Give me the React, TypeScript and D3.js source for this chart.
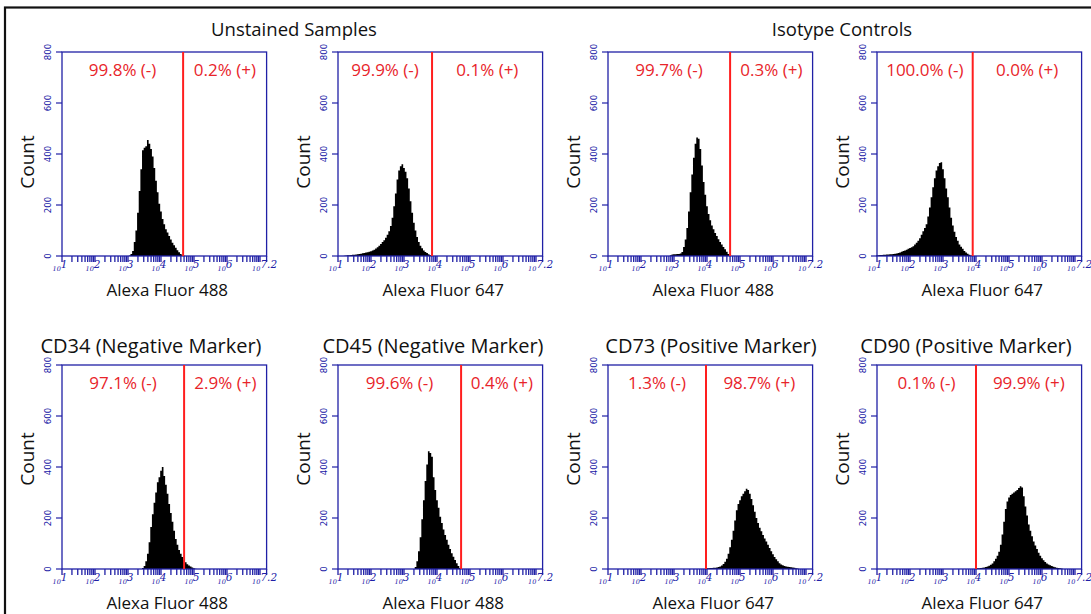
import React from 'react';
import * as d3 from 'd3';

// ---------- data ----------
const BIN = 0.05; // histogram bin width in log10 units
const X_DOMAIN = [1, 7.2];
const Y_DOMAIN = [0, 800];
const yTickValues = [0, 200, 400, 600, 800];
const xTickExponents = ['1', '2', '3', '4', '5', '6', '7.2'];
const xTickPositions = [1, 2, 3, 4, 5, 6, 7.2];

const groupTitles = ['Unstained Samples', 'Isotype Controls'];
const markerTitles = ['CD34 (Negative Marker)', 'CD45 (Negative Marker)', 'CD73 (Positive Marker)', 'CD90 (Positive Marker)'];
const channelLabels = [
  'Alexa Fluor 488', 'Alexa Fluor 647', 'Alexa Fluor 488', 'Alexa Fluor 647',
  'Alexa Fluor 488', 'Alexa Fluor 488', 'Alexa Fluor 647', 'Alexa Fluor 647',
];
const negLabels = ['99.8% (-)', '99.9% (-)', '99.7% (-)', '100.0% (-)', '97.1% (-)', '99.6% (-)', '1.3% (-)', '0.1% (-)'];
const posLabels = ['0.2% (+)', '0.1% (+)', '0.3% (+)', '0.0% (+)', '2.9% (+)', '0.4% (+)', '98.7% (+)', '99.9% (+)'];
const gateLog = [4.67, 3.85, 4.7, 3.9, 4.7, 4.73, 3.97, 4.0];

const histStarts = [3.0, 1.2, 2.9, 1.0, 3.4, 3.3, 4.0, 4.0];

const unstained488 = [0, 2, 8, 20, 55, 100, 170, 255, 340, 415, 425, 430, 455, 440, 420, 390, 345, 295, 250, 205, 175, 145, 125, 105, 92, 78, 65, 52, 42, 32, 23, 15, 8, 3, 1];
const unstained647 = [1, 2, 3, 3, 4, 5, 5, 6, 7, 8, 9, 11, 12, 14, 15, 17, 19, 22, 25, 29, 34, 40, 47, 55, 62, 72, 83, 97, 118, 150, 195, 245, 300, 335, 352, 360, 345, 330, 305, 265, 215, 170, 130, 100, 75, 55, 40, 30, 22, 16, 12, 7, 3, 0];
const isotype488 = [3, 6, 7, 7, 8, 8, 10, 16, 35, 65, 110, 175, 250, 320, 385, 440, 465, 460, 420, 355, 290, 240, 195, 165, 140, 120, 105, 90, 78, 66, 55, 45, 35, 26, 17, 8, 0];
const isotype647 = [3, 3, 4, 4, 5, 5, 6, 6, 7, 7, 8, 9, 10, 12, 14, 17, 20, 22, 25, 28, 31, 34, 38, 45, 52, 60, 70, 83, 97, 110, 125, 155, 190, 230, 270, 305, 335, 352, 365, 368, 340, 305, 265, 230, 190, 150, 120, 95, 75, 60, 45, 36, 28, 20, 14, 9, 5, 2];
const cd34 = [0, 4, 12, 30, 60, 105, 165, 215, 260, 300, 340, 360, 385, 400, 365, 330, 295, 255, 220, 185, 150, 118, 95, 75, 60, 47, 35, 26, 19, 14, 10, 6, 3, 1];
const cd45 = [0, 8, 30, 70, 125, 195, 270, 345, 410, 462, 455, 440, 360, 310, 270, 240, 205, 180, 155, 133, 115, 95, 78, 62, 48, 35, 23, 12, 4];
const cd73 = [3, 3, 4, 4, 5, 5, 6, 8, 10, 14, 20, 28, 40, 60, 85, 115, 150, 190, 230, 255, 270, 285, 295, 305, 315, 310, 295, 275, 250, 225, 200, 180, 162, 148, 133, 120, 108, 95, 82, 70, 58, 47, 38, 30, 23, 18, 15, 12, 10, 9, 8, 7, 6, 5, 3, 2];
const cd90 = [2, 3, 3, 4, 5, 6, 8, 10, 13, 17, 22, 30, 40, 52, 68, 95, 135, 185, 235, 265, 280, 290, 295, 300, 305, 310, 318, 325, 320, 285, 245, 210, 175, 150, 128, 108, 92, 78, 64, 52, 42, 34, 27, 22, 18, 15, 12, 9, 7, 5, 4, 3, 2];

const histCounts = [unstained488, unstained647, isotype488, isotype647, cd34, cd45, cd73, cd90];

// ---------- layout ----------
const W = 1091;
const H = 614;
const panelLefts = [62, 338, 608, 877];
const rowTops = [52, 365];
const PW = 204.6;
const PH = 204;
const groupTitleX = [294, 842];
const markerTitleX = [151, 433, 711, 966];
const countYCenter = [162, 459];

const AXIS = '#2020a6';
const RED = '#ff1e1e';
const REDTXT = '#e8242a';
const FONT = '"Open Sans", "Noto Sans", sans-serif';

function Panel({ idx }: { idx: number }) {
  const col = idx % 4;
  const row = Math.floor(idx / 4);
  const left = panelLefts[col];
  const top = rowTops[row];
  const bottom = top + PH;
  const x = d3.scaleLinear().domain(X_DOMAIN).range([left, left + PW]);
  const y = d3.scaleLinear().domain(Y_DOMAIN).range([bottom, top]);

  const start = histStarts[idx];
  const counts = histCounts[idx];
  const pts: [number, number][] = [[start - BIN, 0]];
  counts.forEach((c, i) => pts.push([start + i * BIN, c]));
  pts.push([start + counts.length * BIN, 0]);
  const area = d3
    .area<[number, number]>()
    .x((d) => x(d[0]))
    .y0(y(0))
    .y1((d) => y(d[1]))
    .curve(d3.curveStep);

  const minor: number[] = [];
  for (let d = 1; d <= 7; d++) {
    for (let k = 1; k <= 9; k++) {
      const v = d + Math.log10(k);
      if (v <= 7.2 + 1e-9) minor.push(v);
    }
  }
  minor.push(7.2);

  const gx = x(gateLog[idx]);

  return (
    <g>
      <path d={area(pts) || ''} fill="#000" />
      <rect x={left} y={top} width={PW} height={PH} fill="none" stroke={AXIS} strokeWidth={1.3} />
      {minor.map((v, i) => (
        <line key={i} x1={x(v)} x2={x(v)} y1={bottom} y2={bottom + 6} stroke={AXIS} strokeWidth={1.3} />
      ))}
      {xTickPositions.map((v, i) => (
        <text key={i} x={x(v) - 2} y={bottom + 15} textAnchor="middle" fill={AXIS} fontFamily="'DejaVu Serif', serif" fontStyle="italic">
          <tspan fontSize={6.5}>10</tspan>
          <tspan fontSize={10.5} dy={-3}>{xTickExponents[i]}</tspan>
        </text>
      ))}
      {yTickValues.map((v) => (
        <g key={v}>
          <line x1={left - 6} x2={left} y1={y(v)} y2={y(v)} stroke={AXIS} strokeWidth={1.2} />
          <text
            transform={`translate(${left - 11},${y(v)}) rotate(-90)`}
            textAnchor="middle"
            fontSize={9.5}
            fill={AXIS}
            fontFamily="'Liberation Sans Narrow', 'DejaVu Sans Condensed', sans-serif"
          >
            {v}
          </text>
        </g>
      ))}
      <line x1={gx} x2={gx} y1={top} y2={bottom} stroke={RED} strokeWidth={2} />
      <text x={(left + gx) / 2} y={top + 24} textAnchor="middle" fontSize={17} fill={REDTXT} fontFamily={FONT}>
        {negLabels[idx]}
      </text>
      <text x={(gx + left + PW) / 2} y={top + 24} textAnchor="middle" fontSize={17} fill={REDTXT} fontFamily={FONT}>
        {posLabels[idx]}
      </text>
      <text
        transform={`translate(${left - 28},${countYCenter[row]}) rotate(-90)`}
        textAnchor="middle"
        fontSize={19}
        fill="#111"
        fontFamily={FONT}
      >
        Count
      </text>
      <text x={left + PW / 2 + 3} y={bottom + 40} textAnchor="middle" fontSize={17} fill="#111" fontFamily={FONT}>
        {channelLabels[idx]}
      </text>
      {row === 1 && (
        <text x={markerTitleX[col]} y={353} textAnchor="middle" fontSize={20} fill="#111" fontFamily={FONT}>
          {markerTitles[col]}
        </text>
      )}
    </g>
  );
}

export default function App() {
  return (
    <svg
      width={W}
      height={H}
      viewBox={`0 0 ${W} ${H}`}
      style={{ position: 'absolute', left: 0, top: 0, background: '#fff' }}
    >
      <rect x={0} y={0} width={W} height={H} fill="#fff" />
      <rect x={5} y={7.5} width={W + 20} height={H + 20} fill="none" stroke="#111" strokeWidth={2.2} />
      {groupTitles.map((t, i) => (
        <text key={t} x={groupTitleX[i]} y={36} textAnchor="middle" fontSize={18.5} fill="#111" fontFamily={FONT}>
          {t}
        </text>
      ))}
      {histCounts.map((_, i) => (
        <Panel key={i} idx={i} />
      ))}
    </svg>
  );
}
